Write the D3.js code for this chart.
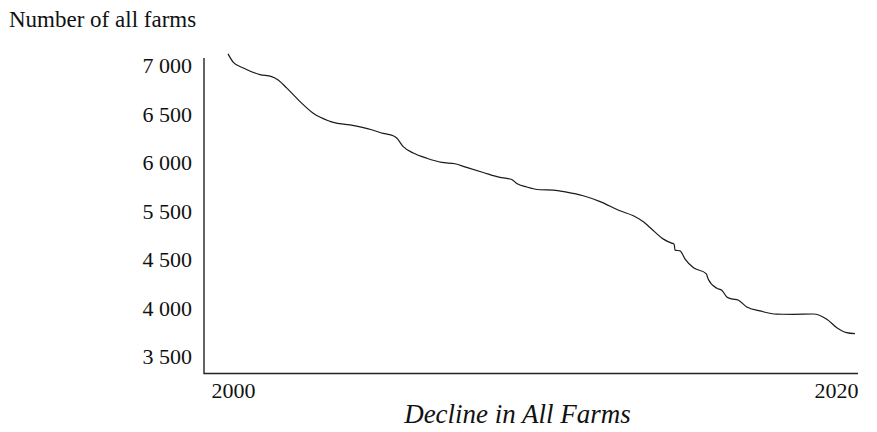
<!DOCTYPE html>
<html>
<head>
<meta charset="utf-8">
<script src="https://cdn.jsdelivr.net/npm/d3@7"></script>
<style>
  html, body { margin: 0; padding: 0; background: #fff; }
  svg { display: block; }
  text { font-family: "Liberation Serif", "Times New Roman", serif; fill: #111; }
</style>
</head>
<body>
<svg id="chart" width="877" height="432"></svg>
<script>
// Farm counts by (fractional) year
const years = [
  2000.00, 2000.17, 2000.49, 2001.02, 2001.39, 2001.60, 2001.87, 2002.30, 2002.72, 2003.20,
  2003.36, 2003.89, 2004.58, 2004.95, 2005.27, 2005.38, 2005.59, 2005.91, 2006.34, 2006.82,
  2007.24, 2007.61, 2008.14, 2008.68, 2008.89, 2009.05, 2009.21, 2009.53, 2009.95, 2010.38,
  2010.80, 2011.33, 2011.87, 2012.50, 2012.93, 2013.25, 2013.46, 2013.89, 2014.15, 2014.23,
  2014.26, 2014.42, 2014.58, 2014.84, 2015.25, 2015.32, 2015.59, 2015.75, 2015.91, 2016.07,
  2016.28, 2016.55, 2016.97, 2017.50, 2018.03, 2018.67, 2019.10, 2019.42, 2019.73, 2020.00
];
const farms = [
  7120, 7033, 6975, 6906, 6886, 6851, 6769, 6627, 6507, 6431,
  6414, 6387, 6338, 6300, 6276, 6253, 6163, 6098, 6044, 6001,
  5987, 5949, 5897, 5846, 5836, 5825, 5784, 5747, 5719, 5716,
  5695, 5657, 5597, 5502, 5401, 5277, 5160, 4920, 4837, 4817,
  4693, 4678, 4507, 4417, 4355, 4297, 4204, 4184, 4114, 4094,
  4080, 4011, 3970, 3936, 3935, 3938, 3884, 3797, 3746, 3735
];

// Axis ticks
const yTicks = [3500, 4000, 4500, 5500, 6000, 6500, 7000];
const xTicks = [2000, 2020];

const yTitle = "Number of all farms";
const chartTitle = "Decline in All Farms";

const svg = d3.select("#chart");

// Plot frame
const frame = { left: 204, right: 858, top: 58, bottom: 373.5 };

const x = d3.scaleLinear().domain([2000, 2020]).range([228, 855]);

// Tick labels sit at evenly spaced positions on the value axis
const yTop = 65.5, yBottom = 356.5;
const y = d3.scaleLinear()
  .domain(yTicks)
  .range(yTicks.map((d, i) => yBottom + (yTop - yBottom) * i / (yTicks.length - 1)));

const fmt = d3.formatLocale({ decimal: ".", thousands: " ", grouping: [3], currency: ["", ""] }).format(",");

// Frame lines
svg.append("path")
  .attr("d", `M${frame.left},${frame.top}V${frame.bottom}H${frame.right}`)
  .attr("fill", "none")
  .attr("stroke", "#222")
  .attr("stroke-width", 1.4);

// Y axis labels
const yAxis = svg.append("g")
  .attr("transform", `translate(${frame.left},0)`)
  .call(d3.axisLeft(y).tickValues(yTicks).tickFormat(fmt).tickSize(0).tickPadding(12));
yAxis.select(".domain").remove();
yAxis.selectAll("text")
  .style("font-family", "Liberation Serif, serif")
  .style("font-size", "22px")
  .attr("fill", "#111");

// X axis labels
const xAxis = svg.append("g")
  .attr("transform", `translate(0,${frame.bottom})`)
  .call(d3.axisBottom(x).tickValues(xTicks).tickFormat(d3.format("d")).tickSize(0).tickPadding(9));
xAxis.select(".domain").remove();
xAxis.selectAll("text")
  .style("font-family", "Liberation Serif, serif")
  .style("font-size", "22px")
  .attr("fill", "#111")
  .attr("text-anchor", (d, i) => i === 0 ? "start" : "end")
  .attr("dx", (d, i) => i === 0 ? -17 : 3);

// Line
const data = years.map((yr, i) => ({ year: yr, value: farms[i] }));
svg.append("path")
  .datum(data)
  .attr("fill", "none")
  .attr("stroke", "#1a1a1a")
  .attr("stroke-width", 1.2)
  .attr("d", d3.line()
    .x(d => x(d.year))
    .y(d => y(d.value))
    .curve(d3.curveMonotoneX));

// Y title
svg.append("text")
  .attr("x", 9)
  .attr("y", 27)
  .style("font-size", "23px")
  .text(yTitle);

// Chart title
svg.append("text")
  .attr("x", 517.5)
  .attr("y", 423)
  .attr("text-anchor", "middle")
  .style("font-size", "27px")
  .style("font-style", "italic")
  .text(chartTitle);
</script>
</body>
</html>
